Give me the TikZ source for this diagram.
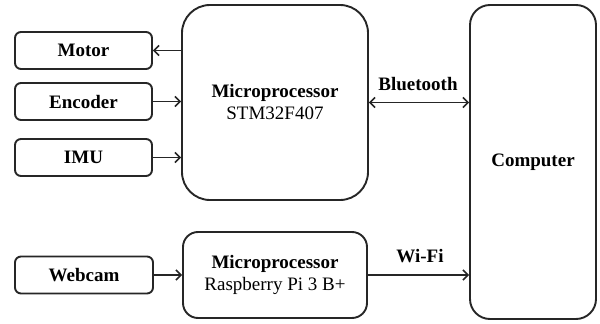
\documentclass[tikz,border=0pt]{standalone}
\usepackage{fontspec}
\setmainfont{Liberation Serif}
\usetikzlibrary{arrows.meta}
\begin{document}
\begin{tikzpicture}[x=1pt,y=-1pt,
  box/.style={draw=black!85,line width=1.9pt,inner sep=0pt,align=center,
    font=\fontsize{19}{22}\selectfont},
  smallbox/.style={box,minimum width=137pt,minimum height=37pt,rounded corners=6pt,font=\fontsize{19}{22}\selectfont\bfseries},
  arr/.style={draw=black!85,line width=1.9pt,-{Straight Barb[length=5pt,width=10pt,line width=1.6pt]}},
  biarr/.style={draw=black!85,line width=1.9pt,{Straight Barb[length=5pt,width=10pt,line width=1.6pt]}-{Straight Barb[length=5pt,width=10pt,line width=1.6pt]}},
  lbl/.style={font=\fontsize{19}{22}\selectfont\bfseries,inner sep=0pt}]
\useasboundingbox (0,0) rectangle (600,324);
\node[smallbox] (motor) at (83.5,50.5) {Motor};
\node[smallbox] (enc) at (83.5,101.5) {Encoder};
\node[smallbox] (imu) at (83.5,157.5) {IMU};
\node[smallbox,minimum width=138pt] (cam) at (84,275) {Webcam};
\node[box,minimum width=186pt,minimum height=195pt,rounded corners=28pt] (m1) at (275,102.5) {\textbf{Microprocessor}\\STM32F407};
\node[box,minimum width=184pt,minimum height=86pt,rounded corners=15pt] (m2) at (275,275) {\textbf{Microprocessor}\\Raspberry Pi 3 B+};
\node[box,minimum width=126pt,minimum height=314pt,rounded corners=20pt,font=\fontsize{19}{22}\selectfont\bfseries] (comp) at (533,162) {Computer};
\draw[arr] (m1.west |- motor.east) -- (motor.east);
\draw[arr] (enc.east) -- (enc.east -| m1.west);
\draw[arr] (imu.east) -- (imu.east -| m1.west);
\draw[biarr] (m1.east) -- (m1.east -| comp.west);
\draw[arr] (cam.east) -- (m2.west);
\draw[arr] (m2.east) -- (m2.east -| comp.west);
\node[lbl] (bt) at (418,84) {Bluetooth};
\node[lbl] (wifi) at (420,256) {Wi-Fi};
\end{tikzpicture}
\end{document}
